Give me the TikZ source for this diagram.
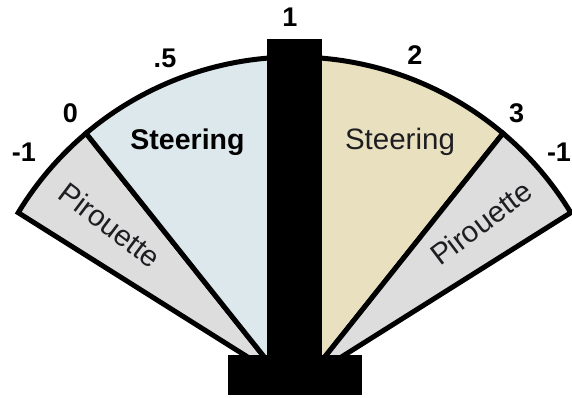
\documentclass[tikz,border=0pt]{standalone}
\usepackage{fontspec}
\setmainfont{Liberation Sans}
\definecolor{steerblue}{RGB}{221,232,236}
\definecolor{steertan}{RGB}{233,224,192}
\definecolor{pirgray}{RGB}{221,221,221}
\definecolor{inkdark}{RGB}{30,30,34}
\begin{document}
\begin{tikzpicture}[x=1pt,y=1pt,
  wedge/.style={draw=black,line width=5pt,line join=miter},
  tick/.style={font=\fontsize{27}{27}\selectfont\bfseries,anchor=base,inner sep=0pt},
  zonebold/.style={font=\fontsize{28.5}{28.5}\selectfont\bfseries,anchor=base,inner sep=0pt},
  zone/.style={font=\fontsize{29.5}{29.5}\selectfont,text=inkdark,inner sep=0pt},
  block/.style={fill=black,draw=none,inner sep=0pt,anchor=south west}]
\useasboundingbox (0,0) rectangle (572,398);
% fan centre and the two apexes the wedges run down to
\coordinate (C) at (294.5,18);
\coordinate (L) at (281,20);
\coordinate (R) at (308,20);
\coordinate (M) at (294.5,20);
% left pirouette wedge
\filldraw[wedge,fill=pirgray] ([shift={(C)}]148.8:323) arc[start angle=148.8,end angle=130.2,radius=323] -- (L) -- cycle;
% left steering wedge
\filldraw[wedge,fill=steerblue] ([shift={(C)}]130.2:323) arc[start angle=130.2,end angle=90,radius=323] -- (M) -- (L) -- cycle;
% right steering wedge
\filldraw[wedge,fill=steertan] ([shift={(C)}]49.8:323) arc[start angle=49.8,end angle=90,radius=323] -- (M) -- (R) -- cycle;
% right pirouette wedge
\filldraw[wedge,fill=pirgray] ([shift={(C)}]31.2:323) arc[start angle=31.2,end angle=49.8,radius=323] -- (R) -- cycle;
% central bar and base
\node[block,minimum width=55pt,minimum height=316pt] (bar) at (267,43) {};
\node[block,minimum width=134pt,minimum height=40pt] (base) at (228,3) {};
% zone labels
\node[zonebold] (steerL) at (187.5,248) {Steering};
\node[zone,anchor=base] (steerR) at (400,248) {Steering};
\node[zone,rotate=-37] (pirL) at (110,173) {Pirouette};
\node[zone,rotate=37] (pirR) at (481,175) {Pirouette};
% scale values
\node[tick] (t1) at (290,371) {1};
\node[tick] (t05) at (165,330) {.5};
\node[tick] (t0) at (70.5,275) {0};
\node[tick] (tm1L) at (24,236) {-1};
\node[tick] (t2) at (415,333) {2};
\node[tick] (t3) at (516.5,275) {3};
\node[tick] (tm1R) at (559,236) {-1};
\end{tikzpicture}
\end{document}
